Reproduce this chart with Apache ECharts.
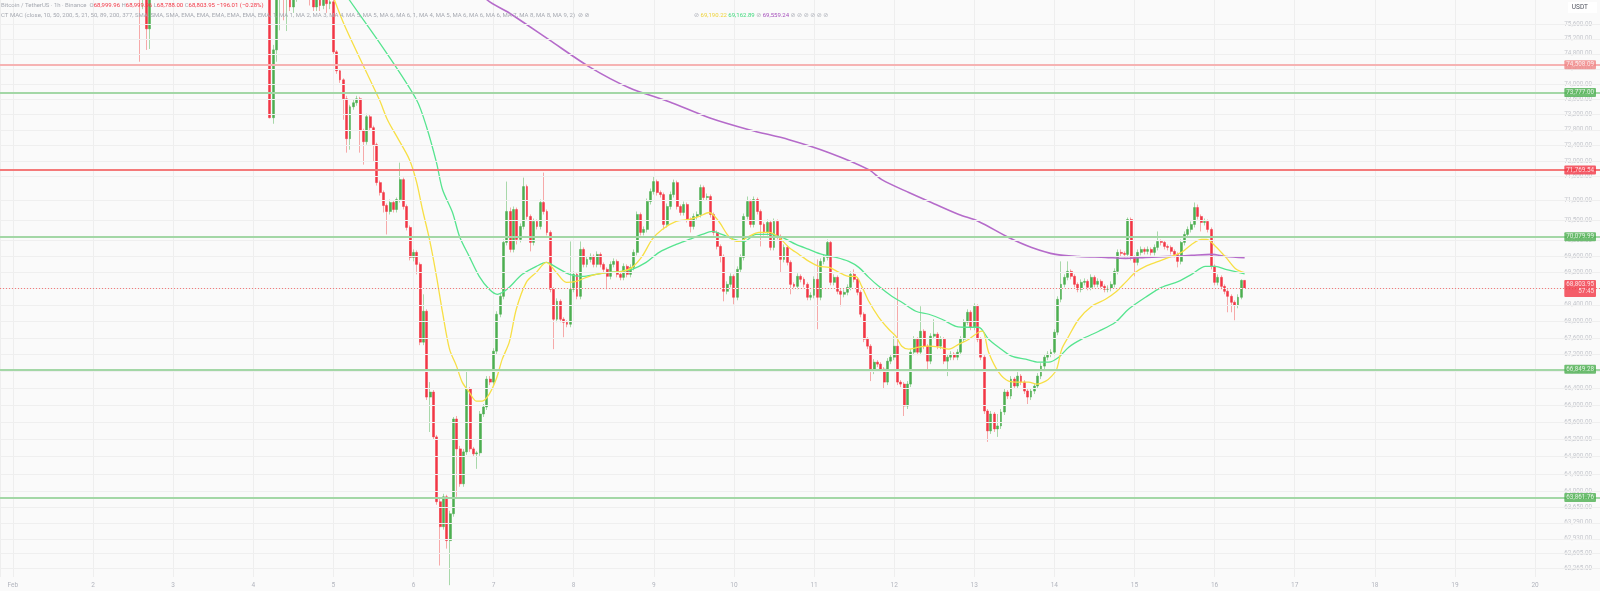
<!DOCTYPE html>
<html><head><meta charset="utf-8">
<script src="https://cdn.jsdelivr.net/npm/echarts@6/dist/echarts.min.js"></script>
<style>html,body{margin:0;padding:0;background:#fafafa}#c{width:1600px;height:591px}</style>
</head><body><div id="c"></div><script>
const HOUR = 3600000;
const T0 = new Date(2026, 1, 1, 0, 0, 0).getTime();
const firstCandleHour = 37;
// [open, high, low, close] hourly candles starting at Feb 1 + firstCandleHour
const candles = [
[76800,77100,76400,76600],[76600,76800,74590,76350],[76350,76700,76000,76450],[76450,76600,74905,75470],[75470,76700,74930,76500],
[76500,77000,76350,76900],[76900,77400,76700,77200],[77200,77600,77000,77450],[77450,77800,77200,77350],[77350,77700,77100,77600],
[77600,78100,77400,77900],[77900,78300,77600,78100],[78100,78400,77800,77950],[77950,78200,77600,77800],[77800,78100,77500,78000],
[78000,78500,77800,78300],[78300,78700,78000,78500],[78500,78900,78200,78400],[78400,78700,78000,78200],[78200,78500,77900,78350],
[78350,78800,78100,78600],[78600,79000,78300,78700],[78700,79100,78400,78500],[78500,78800,78100,78300],[78300,78600,77900,78100],
[78100,78400,77700,77900],[77900,78200,77500,77700],[77700,78000,77300,77500],[77500,77800,77100,77300],[77300,77600,76900,77200],
[77200,77500,76800,77000],[77000,77300,76700,77100],[77100,77400,76800,76900],[76900,77200,76600,77000],[77000,77300,76700,76800],
[76800,77100,76500,76900],[76900,77200,76600,76700],[76700,77000,76400,76800],[76800,77100,76500,76600],[76600,76900,76400,76500],
[76500,76600,73100,73117],[73117,75040,72960,74906],[74906,76500,74590,76300],[76300,76700,75430,76500],[76500,76700,75700,76350],
[76350,76800,75410,76550],[76550,76700,75950,76060],[76060,76600,75900,76400],[76400,76800,76200,76600],[76600,76900,76250,76400],
[76400,76900,76300,76700],[76700,76900,76350,76500],[76500,76700,76100,76300],[76300,76500,75950,76060],[76060,76600,75950,76450],
[76450,76600,75950,76100],[76100,76500,76000,76300],[76300,76500,75900,76150],[76150,76500,76000,76200],[76200,76400,74775,74853],
[74853,74900,74270,74349],[74349,74400,74030,74111],[74111,74150,73065,73612],
[73612,73691,72213,72573],[72573,73455,72290,73403],[73403,73586,73325,73508],[73508,73691,73429,73612],[73612,73665,72213,72780],
[72780,72832,71906,72496],[72496,73221,72419,73143],[73143,73195,72780,72858],[72858,72910,71982,72419],[72419,72470,71371,71447],
[71447,71498,71118,71194],[71194,71245,70690,70866],[70866,70916,70139,70715],[70715,71017,70640,70942],[70942,70992,70690,70765],
[70765,71068,70690,71017],[71017,71957,70942,71523],[71523,71574,70765,70841],[70841,70891,70239,70314],[70314,70364,69493,69568],
[69568,69766,69469,69692],[69692,69741,69149,69395],[69395,69444,67426,67498],[67498,68659,67426,68246],[68246,68294,66121,66191],
[66191,66545,65373,66309],[66309,66356,65188,65258],[65258,65304,63700,63768],[63768,63836,62335,63204],[63204,63949,63137,63881],
[63881,63927,62712,62891],[62891,63564,61900,63496],[63496,65723,63429,65676],[65676,65746,63881,64980],[64980,65049,64109,64177],
[64177,64980,64109,64911],[64911,66806,64842,66380],[66380,66427,64911,64980],[64980,65026,64796,64865],[64865,64934,64520,64888],
[64888,65863,64819,65793],[65793,66027,65723,65957],[65957,66687,65887,66616],[66616,66687,66474,66545],[66545,67354,66474,67282],
[67282,68246,67210,68173],[68173,68683,68100,68610],[68610,70014,68537,69940],[69940,71473,69865,70715],[70715,70815,69692,69766],
[69766,70841,69692,70765],[70765,70815,69890,70014],[70014,70414,69940,70339],[70339,71574,70264,71346],[71346,71396,70514,70590],
[70590,70640,69717,69940],[69940,70539,69865,70464],[70464,70514,70264,70339],[70339,71017,70264,70942],[70942,71702,70640,70715],
[70715,70765,70114,70189],[70189,70239,68708,68781],[68781,68830,67330,68052],[68052,68561,67979,68488],[68488,68537,67979,68052],
[68052,68100,67618,67979],[67979,68028,67858,67931],[67931,69964,67858,68781],[68781,69223,68708,69149],[69149,69198,68537,68610],
[68610,69964,68537,69766],[69766,69816,69321,69395],[69395,69593,69321,69518],[69518,69667,69444,69593],[69593,69642,69321,69395],
[69395,69717,69321,69642],[69642,69692,69321,69395],[69395,69444,69198,69272],[69272,69321,68781,69100],[69100,69469,69026,69395],
[69395,69543,69321,69469],[69469,69518,69075,69149],[69149,69198,69002,69075],[69075,69420,69002,69346],[69346,69395,69075,69149],
[69149,69395,69075,69321],[69321,69766,69247,69692],[69692,70715,69617,70640],[70640,70690,70114,70189],[70189,70339,70114,70264],
[70264,71042,70189,70967],[70967,71296,70891,71219],[71219,71600,71143,71473],[71473,71523,71118,71194],[71194,71245,71068,71143],
[71143,71194,70264,70389],[70389,70916,70314,70841],[70841,71219,70765,71143],[71143,71523,71068,71447],[71447,71498,70765,70841],
[70841,70891,70614,70690],[70690,70967,70614,70891],[70891,70942,70439,70514],[70514,70564,70189,70339],[70339,70665,70264,70590],
[70590,70715,70514,70640],[70640,71396,70564,71321],[71321,71371,70992,71068],[71068,71169,70992,71093],[71093,71143,70564,70640],
[70640,70690,70114,70189],[70189,70239,69766,69840],[69840,69890,69444,69593],[69593,69642,68488,68732],[68732,68977,68659,68903],
[68903,69174,68830,69100],[69100,69149,68415,68586],[68586,69346,68513,69272],[69272,69642,69198,69568],[69568,70665,69493,70590],
[70590,71093,70514,70967],[70967,71017,70314,70389],[70389,71093,70314,71017],[71017,71068,70640,70715],[70715,70765,69840,70389],
[70389,70439,70114,70189],[70189,70514,70114,70439],[70439,70489,69741,69816],[69816,70539,69741,70464],[70464,70514,70014,70089],
[70089,70139,69198,69518],[69518,69890,69444,69816],[69816,69865,69370,69444],[69444,69493,68659,68903],[68903,68952,68781,68854],
[68854,69174,68781,69100],[69100,69149,68952,69026],[69026,69075,68830,68903],[68903,68952,68513,68586],[68586,68708,68513,68635],
[68635,69100,68561,69026],[69026,69518,67810,68586],[68586,69543,68513,69469],[69469,69642,69395,69568],[69568,70014,69493,69940],
[69940,69989,68879,68952],[68952,69149,68879,69075],[69075,69124,68659,68732],[68732,68781,68367,68659],[68659,68781,68586,68708],
[68708,68903,68635,68830],[68830,69223,68757,69149],[69149,69272,68952,69026],[69026,69075,68635,68708],[68708,68757,68100,68173],
[68173,68221,67498,67570],[67570,67618,67330,67402],[67402,67450,66569,66806],[66806,67091,66734,67019],[67019,67067,66901,66972],
[66972,67019,66782,66853],[66853,66901,66380,66545],[66545,67115,66474,67043],[67043,67210,66972,67138],[67138,67642,67067,67402],
[67402,68830,66474,66545],[66545,66592,66427,66498],[66498,66545,65746,65980],[65980,66569,65910,66498],[66498,67330,66427,67258],
[67258,67642,67186,67570],[67570,67618,67186,67258],[67258,68367,67186,67762],[67762,67810,67330,67402],[67402,67450,66806,67043],
[67043,67714,66972,67642],[67642,68052,67570,67690],[67690,67738,67330,67402],[67402,67642,67330,67570],[67570,67618,66972,67043],
[67043,67210,66687,67138],[67138,67282,67067,67210],[67210,67258,67067,67138],[67138,67330,67067,67258],[67258,67642,67186,67570],
[67570,68052,67498,67979],[67979,68294,67906,68221],[68221,68270,67786,67858],[67858,68440,67786,68367],[68367,68415,67498,67570],
[67570,67618,67067,67138],[67138,67186,65793,65863],[65863,65910,65142,65397],[65397,65863,65327,65793],[65793,65840,65373,65443],
[65443,65793,65258,65513],[65513,65910,65443,65840],[65840,66380,65770,66309],[66309,66356,66144,66215],[66215,66687,66144,66616],
[66616,66663,66380,66451],[66451,66782,66380,66687],[66687,66734,66474,66545],[66545,66592,66262,66333],[66333,66380,66027,66191],
[66191,66403,66121,66333],[66333,66521,66262,66451],[66451,66758,66380,66687],[66687,66996,66616,66925],[66925,67210,66853,67138],
[67138,67282,67067,67210],[67210,67330,67138,67258],[67258,67810,67186,67738],[67738,68610,67666,68537],[68537,69469,68464,68903],
[68903,69149,68830,69075],[69075,69469,69002,69223],[69223,69272,69026,69100],[69100,69149,68830,68903],[68903,68952,68708,68781],
[68781,69026,68708,68952],[68952,69051,68879,68977],[68977,69026,68757,68830],[68830,69149,68757,69075],[69075,69124,68830,68903],
[68903,69051,68830,68977],[68977,69026,68781,68854],[68854,68903,68708,68781],[68781,68879,68708,68806],[68806,68977,68732,68903],
[68903,69297,68830,69223],[69223,69766,69149,69692],[69692,69766,69593,69667],[69667,69717,69568,69642],[69642,70564,69568,70514],
[70514,70564,69493,69568],[69568,69617,69100,69444],[69444,69766,69370,69692],[69692,69840,69617,69766],[69766,69816,69642,69717],
[69717,69840,69642,69766],[69766,69816,69617,69692],[69692,69890,69617,69816],[69816,70214,69741,69964],[69964,70014,69865,69940],
[69940,69989,69766,69840],[69840,69890,69741,69816],[69816,69865,69642,69717],[69717,69766,69568,69642],[69642,69692,69321,69469],
[69469,70014,69395,69940],[69940,70214,69865,70139],[70139,70339,70064,70264],[70264,70464,70189,70389],[70389,70942,70314,70815],
[70815,70891,70514,70590],[70590,70640,70214,70439],[70439,70539,70364,70464],[70464,70514,70189,70264],[70264,70314,69272,69346],
[69346,69395,68879,68952],[68952,69149,68879,69075],[69075,69124,68781,68854],[68854,68903,68659,68732],[68732,68781,68221,68610],
[68610,68659,68221,68464],[68464,68513,68028,68391],[68391,68659,68318,68586],[68586,69026,68537,68999.96],[68999.96,68999.96,68788,68803.95]
];
// moving averages: [hour since Feb 1 00:00, price]
const maFast = [[95,76576],[99.3,75574],[109.8,73586],[112.2,73065],[115.2,72599],[118.8,72033],[120.9,71473],[122.7,70765],[124.8,70014],[126.9,69100],[128.7,68222],[130.8,67330],[132.9,66925],[134.6,66545],[136.7,66309],[138.8,66097],[140.6,66097],[142.7,66262],[144.8,66616],[146.6,67091],[148.7,67498],[150.8,68294],[153.8,68952],[156.8,69198],[159.8,69444],[162.8,69198],[165.8,68952],[168.8,68977],[171.8,69075],[174.7,69149],[178.6,69198],[182.5,69223],[185.5,69321],[188.5,69592],[191.5,70014],[194.5,70264],[198.7,70464],[202.6,70514],[205.6,70590],[208.6,70690],[211.5,70464],[214.5,70089],[217.5,69964],[220.5,70089],[223.5,70189],[226.5,70189],[229.5,70064],[232.5,69816],[235.5,69642],[238.5,69469],[241.5,69346],[244.5,69321],[247.5,69198],[250.4,69100],[252.5,69100],[254.3,68854],[256.4,68488],[259.4,68100],[262.4,67810],[264.5,67642],[266.3,67402],[268.4,67330],[271.4,67378],[274.4,67402],[277.4,67378],[280.4,67330],[283.4,67450],[286.4,67570],[289.3,67738],[290.5,67762],[292.3,67258],[295.3,66782],[298.3,66569],[301.3,66545],[304.3,66545],[306.7,66498],[309.4,66569],[311.2,66687],[312.7,66853],[314.2,67330],[316.3,67642],[319.3,68052],[323.2,68367],[327.3,68537],[330.3,68708],[333.3,68952],[336.3,69198],[339.3,69346],[343.2,69469],[347.1,69592],[350.1,69692],[353.1,69890],[356.1,70014],[357.6,70014],[360.3,69841],[363.4,69568],[366.5,69272],[369,69190.22]];
const maMid = [[97.8,76658],[100.8,76249],[111.3,74906],[120.9,73586],[123.9,72884],[126.9,71957],[128.7,71270],[131.7,70690],[133.8,70089],[136.7,69593],[139.7,69100],[142.7,68781],[145.1,68659],[147.2,68732],[148.7,68830],[152.6,69149],[156.8,69346],[159.8,69444],[162.8,69321],[166.7,69149],[170.6,69100],[174.7,69149],[178.6,69198],[182.5,69223],[185.5,69272],[189.7,69444],[193.6,69692],[198.7,69890],[202.6,70014],[206.5,70139],[209.5,70214],[212.4,70139],[216.0,70014],[219.0,69964],[222.6,70139],[226.5,70139],[230.4,70064],[234.6,69890],[238.5,69766],[242.4,69642],[246.6,69568],[250.4,69469],[253.4,69321],[256.4,69075],[259.4,68854],[263.3,68610],[266.3,68464],[270.5,68246],[274.4,68173],[278.3,68052],[282.5,67882],[286.4,67858],[289.3,67858],[292.3,67570],[295.3,67378],[299.2,67162],[303.4,67091],[307.3,67019],[310.3,67019],[313.3,67138],[316.3,67378],[320.2,67570],[325.3,67762],[330.3,67979],[334.2,68294],[339.3,68586],[344.1,68830],[349.2,68977],[353.1,69149],[357.3,69346],[360.3,69346],[363.3,69272],[369,69162.89]];
const maSlow = [[130.8,77343],[142.1,76249],[148.7,75897],[160.7,75172],[172.7,74454],[184.6,73901],[196.6,73534],[208.6,73117],[220.5,72806],[232.5,72547],[244.5,72213],[256.4,71778],[260.3,71523],[268.4,71194],[276.5,70891],[283.4,70640],[289.3,70464],[298.3,70064],[305.2,69816],[312.4,69642],[319.3,69592],[327.3,69568],[333.3,69543],[339.3,69568],[347.1,69592],[353.1,69617],[359.1,69642],[363.3,69592],[369,69559.24]];
const priceTicks = [75600,75200,74800,74400,74000,73600,73200,72800,72400,72000,71600,71000,70500,70000,69600,69200,68800,68400,68000,67600,67200,66800,66400,66000,65600,65200,64800,64400,64000,63650,63290,62930,62605,62265];
const levelValues = [74508.09,73777.00,71769.54,70079.99,66849.28,63861.76];
const levelSides = ['resistance-weak','support','resistance','support','support','support'];
const countdown = '57:45';

const chart = echarts.init(document.getElementById('c'));
const FONT = 'Roboto, "DejaVu Sans", sans-serif';
const xMin = T0 - 3.865 * HOUR, xMax = T0 + 475.46 * HOUR;
const yMin = 62081, yMax = 76249;
const fmt = v => Number(v).toLocaleString('en-US', {minimumFractionDigits: 2, maximumFractionDigits: 2});
const times = candles.map((_, i) => T0 + (firstCandleHour + i) * HOUR);
const wickData = candles.map((c, i) => [times[i], c[0], c[3], c[2], c[1]]);
const bodyData = candles.map((c, i) => [times[i], c[0], c[3], Math.min(c[0], c[3]), Math.max(c[0], c[3])]);
const toLine = arr => arr.map(p => [T0 + p[0] * HOUR, p[1]]);
const last = candles[candles.length - 1];
const lastPrice = last[3];
const chg = last[3] - last[0];
const sideStyle = {
  'resistance-weak': {line: '#f6b3b3', box: '#f08484'},
  'resistance': {line: '#f47a7a', box: '#f23645'},
  'support': {line: '#a3d7a6', box: '#4caf50'}
};
const UP = '#4caf50', DOWN = '#f23645';

chart.setOption({
  animation: false,
  backgroundColor: '#fafafa',
  grid: {left: 0, right: 0, top: 0, bottom: 14},
  xAxis: {
    type: 'time', min: xMin, max: xMax,
    minInterval: 24 * HOUR, maxInterval: 24 * HOUR,
    axisLine: {show: false}, axisTick: {show: false},
    splitLine: {show: true, lineStyle: {color: '#eeeeee', width: 1}},
    axisLabel: {
      color: '#b2b5be', fontSize: 6.5, fontFamily: FONT, margin: 5,
      formatter: v => { const d = new Date(v); return d.getDate() === 1 ? 'Feb' : String(d.getDate()); }
    }
  },
  yAxis: {type: 'log', min: yMin, max: yMax, show: false, splitLine: {show: false}},
  series: [
    {
      type: 'scatter', name: 'ticks', z: 1, symbolSize: 0, silent: true,
      data: priceTicks.map(v => [xMax, v]),
      label: {show: true, position: 'left', distance: 7, formatter: p => fmt(p.value[1]),
        color: '#b8bac2', fontSize: 6.3, fontFamily: FONT, backgroundColor: '#fafafa', padding: [0, 1]},
      markLine: {silent: true, symbol: ['none', 'none'], label: {show: false},
        lineStyle: {color: '#efefef', width: 1, type: 'solid'},
        data: priceTicks.map(v => ({yAxis: v}))}
    },
    {
      type: 'scatter', name: 'levels', z: 1, symbolSize: 0, silent: true,
      data: [],
      markLine: {silent: true, symbol: ['none', 'none'], label: {show: false},
        data: levelValues.map((v, i) => ({yAxis: v, lineStyle: {color: sideStyle[levelSides[i]].line, width: 2, type: 'solid'}}))
          .concat([{yAxis: lastPrice, lineStyle: {color: '#f47a7a', width: 1, type: [1, 2]}}])}
    },
    {
      type: 'candlestick', name: 'wicks', z: 2, silent: true, barWidth: 1,
      data: wickData,
      itemStyle: {color: '#a8d8aa', color0: '#f6a9a9', borderColor: '#a8d8aa', borderColor0: '#f6a9a9', borderWidth: 1}
    },
    {
      type: 'candlestick', name: 'bodies', z: 3, silent: true, barWidth: 2.4,
      data: bodyData,
      itemStyle: {color: UP, color0: DOWN, borderColor: UP, borderColor0: DOWN, borderWidth: 0.5}
    },
    {type: 'line', name: 'MA slow', z: 4, data: toLine(maSlow), showSymbol: false, smooth: 0.3, silent: true,
      lineStyle: {color: '#b56bca', width: 1.6}},
    {type: 'line', name: 'MA mid', z: 4, data: toLine(maMid), showSymbol: false, smooth: 0.3, silent: true,
      lineStyle: {color: '#56e48f', width: 1.3}},
    {type: 'line', name: 'MA fast', z: 4, data: toLine(maFast), showSymbol: false, smooth: 0.3, silent: true,
      lineStyle: {color: '#f7df45', width: 1.3}},
    {
      type: 'scatter', name: 'levelLabels', z: 6, symbolSize: 0, silent: true,
      data: levelValues.map((v, i) => ({value: [xMax, v], label: {backgroundColor: sideStyle[levelSides[i]].box}}))
        .concat([{value: [xMax, lastPrice], label: {backgroundColor: '#f23645', lineHeight: 7,
          formatter: p => fmt(p.value[1]) + '\n' + countdown}}]),
      label: {show: true, position: 'left', distance: 4, formatter: p => fmt(p.value[1]),
        color: '#ffffff', fontSize: 6.3, fontFamily: FONT, padding: [1.5, 2], borderRadius: 1}
    }
  ],
  graphic: [
    {type: 'text', left: 1, top: 2, z: 100, style: {
      text: 'Bitcoin / TetherUS · 1h · Binance  O{v|' + fmt(last[0]) + '} H{v|' + fmt(last[1]) + '} L{v|' + fmt(last[2]) + '} C{v|' + fmt(last[3]) + '} {v|' + (chg < 0 ? '−' : '+') + fmt(Math.abs(chg)) + ' (' + (chg < 0 ? '−' : '+') + (Math.abs(chg) / last[0] * 100).toFixed(2) + '%)}',
      fill: '#a6a9b1', fontSize: 6, fontFamily: FONT,
      rich: {v: {fill: '#f23645', fontSize: 6, fontFamily: FONT}}
    }},
    {type: 'text', left: 1, top: 12, z: 100, style: {
      text: 'CT MAC (close, 10, 50, 200, 5, 21, 50, 89, 200, 377, SMA, SMA, SMA, EMA, EMA, EMA, EMA, EMA, EMA, 1, MA 1, MA 2, MA 3, MA 4, MA 5, MA 5, MA 6, MA 6, 1, MA 4, MA 5, MA 6, MA 6, MA 6, MA 7, MA 8, MA 8, MA 9, 2)  ⊘ ⊘',
      fill: '#a6a9b1', fontSize: 6, fontFamily: FONT
    }},
    {type: 'text', left: 694, top: 12, z: 100, style: {
      text: '⊘ {y|' + fmt(maFast[maFast.length - 1][1]) + '} {g|' + fmt(maMid[maMid.length - 1][1]) + '} ⊘ {p|' + fmt(maSlow[maSlow.length - 1][1]) + '} ⊘ ⊘ ⊘ ⊘ ⊘ ⊘',
      fill: '#b0b3bb', fontSize: 6, fontFamily: FONT,
      rich: {y: {fill: '#eed33a', fontSize: 6, fontFamily: FONT}, g: {fill: '#3fd97c', fontSize: 6, fontFamily: FONT}, p: {fill: '#a54fbb', fontSize: 6, fontFamily: FONT}}
    }},
    {type: 'text', right: 3, top: 2, z: 100, style: {
      text: 'USDT', fill: '#50535e', fontSize: 6.5, fontFamily: FONT, backgroundColor: '#ffffff', padding: [2, 9, 2, 4]
    }}
  ]
});
</script></body></html>
